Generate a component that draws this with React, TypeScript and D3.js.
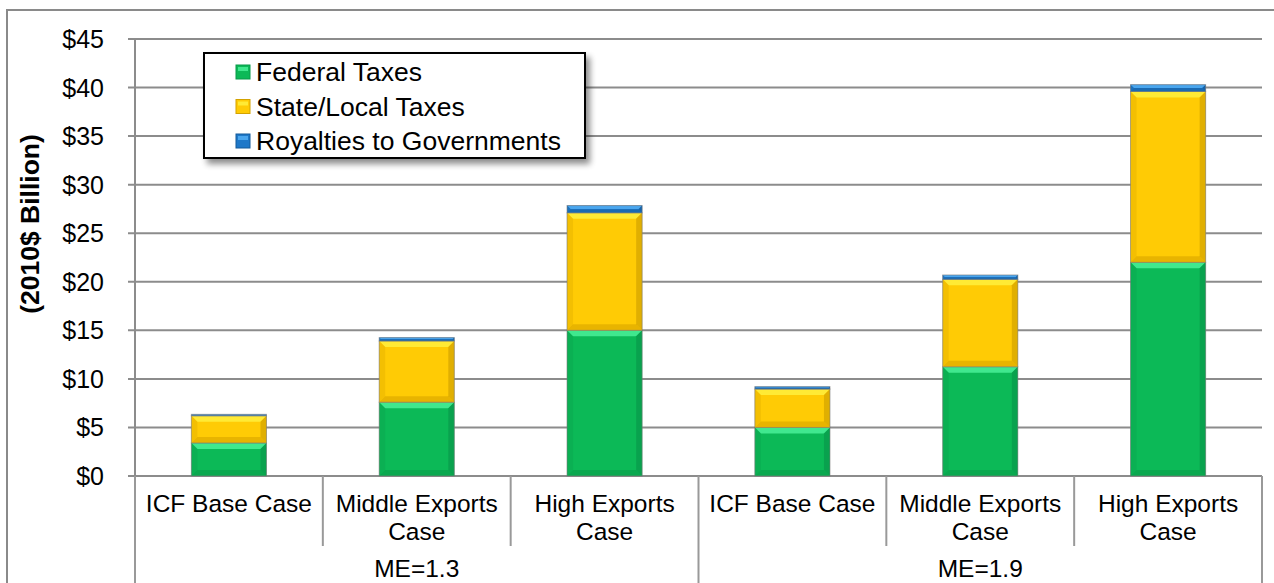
import React from "react";
import * as d3 from "d3";

const categories = [
  "ICF Base Case|1.3",
  "Middle Exports Case|1.3",
  "High Exports Case|1.3",
  "ICF Base Case|1.9",
  "Middle Exports Case|1.9",
  "High Exports Case|1.9",
];
const categoryLabels: string[][] = [
  ["ICF Base Case"],
  ["Middle Exports", "Case"],
  ["High Exports", "Case"],
  ["ICF Base Case"],
  ["Middle Exports", "Case"],
  ["High Exports", "Case"],
];
const groups = ["ME=1.3", "ME=1.9"];
const seriesNames = ["Federal Taxes", "State/Local Taxes", "Royalties to Governments"];
const federal = [3.4, 7.6, 15.0, 5.0, 11.25, 22.0];
const stateLocal = [2.8, 6.3, 12.1, 3.95, 9.0, 17.6];
const royalties = [0.15, 0.35, 0.75, 0.25, 0.45, 0.7];
const yTicks = [0, 5, 10, 15, 20, 25, 30, 35, 40, 45];

const palette = [
  { base: "#0cb957", light: "#40e88e", dark: "#08994a", side: "#0aa84f" },
  { base: "#ffcb05", light: "#ffea35", dark: "#d3a200", side: "#e8b400" },
  { base: "#1f78c8", light: "#4aa6ee", dark: "#145a9a", side: "#1a6ab2" },
];

const FONT = "'Liberation Sans', Arial, sans-serif";

export default function App() {
  const W = 1274;
  const H = 583;
  const left = 135;
  const right = 1262;
  const top = 39;
  const bottom = 476;

  const x = d3.scaleBand<string>().domain(categories).range([left, right]).paddingInner(0.6).paddingOuter(0.3);
  const y = d3.scaleLinear().domain([0, 45]).range([bottom, top]);
  const step = x.step();

  const data = categories.map((c, i) => ({ key: c, f: federal[i], s: stateLocal[i], r: royalties[i] }));
  const stack = d3.stack<any>().keys(["f", "s", "r"])(data);

  const segs: JSX.Element[] = [];
  stack.forEach((layer, si) => {
    const col = palette[si];
    layer.forEach((d, i) => {
      const x0 = x(categories[i])!;
      const w = x.bandwidth();
      const y0 = y(d[1]);
      const y1 = y(d[0]);
      const h = y1 - y0;
      const b = Math.min(6, h / 2);
      const x1 = x0 + w;
      segs.push(
        <g key={`${si}-${i}`}>
          <rect x={x0} y={y0} width={w} height={h} fill={col.base} />
          {b > 1 && (
            <>
              <polygon points={`${x0},${y0} ${x1},${y0} ${x1 - b},${y0 + b} ${x0 + b},${y0 + b}`} fill={col.light} />
              <polygon points={`${x0},${y1} ${x1},${y1} ${x1 - b},${y1 - b} ${x0 + b},${y1 - b}`} fill={col.side} />
              <polygon points={`${x1},${y0} ${x1},${y1} ${x1 - b},${y1 - b} ${x1 - b},${y0 + b}`} fill={col.dark} opacity={0.7} />
              <polygon points={`${x0},${y0} ${x0},${y1} ${x0 + b},${y1 - b} ${x0 + b},${y0 + b}`} fill={col.side} opacity={0.5} />
            </>
          )}
          <rect x={x0} y={y0} width={w} height={h} fill="none" stroke="#7a7a7a" strokeOpacity={0.6} strokeWidth={1} />
        </g>
      );
    });
  });

  const boundaries = d3.range(categories.length + 1).map((i) => left + i * step);

  return (
    <svg width={W} height={H} style={{ position: "absolute", left: 0, top: 0, background: "#fff" }} fontFamily={FONT}>
      <defs>
        <filter id="shadow" x="-10%" y="-10%" width="130%" height="140%">
          <feGaussianBlur in="SourceAlpha" stdDeviation="3" />
          <feOffset dx="4" dy="5" result="ob" />
          <feComponentTransfer><feFuncA type="linear" slope="0.45" /></feComponentTransfer>
          <feMerge><feMergeNode /><feMergeNode in="SourceGraphic" /></feMerge>
        </filter>
      </defs>
      <rect x={0} y={0} width={W} height={H} fill="#fff" />
      <rect x={7} y={10} width={1290} height={620} fill="none" stroke="#8a8a8a" strokeWidth={2} />

      {yTicks.map((t) => (
        <g key={t}>
          <line x1={128} x2={right} y1={y(t)} y2={y(t)} stroke="#8c8c8c" strokeWidth={2} />
          <text x={104} y={y(t)} textAnchor="end" dominantBaseline="central" fontSize={25} fill="#000">
            {"$" + t}
          </text>
        </g>
      ))}
      <line x1={left} x2={left} y1={top} y2={bottom} stroke="#8c8c8c" strokeWidth={2} />

      <text transform={`translate(30,224) rotate(-90)`} textAnchor="middle" dominantBaseline="central" fontSize={26.5} fontWeight="bold">
        (2010$ Billion)
      </text>

      {segs}

      {boundaries.map((bx, i) => {
        const isGroup = i % 3 === 0;
        return <line key={i} x1={bx} x2={bx} y1={bottom} y2={isGroup ? H : 546} stroke="#999" strokeWidth={2} />;
      })}

      {categories.map((c, i) => {
        const cx = left + step * (i + 0.5);
        return categoryLabels[i].map((ln, j) => (
          <text key={c + j} x={cx} y={503 + j * 28} textAnchor="middle" dominantBaseline="central" fontSize={24.5}>
            {ln}
          </text>
        ));
      })}
      {groups.map((g, gi) => (
        <text key={g} x={left + step * (gi * 3 + 1.5)} y={568} textAnchor="middle" dominantBaseline="central" fontSize={24.5}>
          {g}
        </text>
      ))}

      <g>
        <rect x={204} y={53} width={381} height={105} fill="#fff" stroke="#000" strokeWidth={2} filter="url(#shadow)" />
        {seriesNames.map((n, i) => {
          const cy = 72 + i * 34.5;
          const col = palette[i];
          return (
            <g key={n}>
              <rect x={236} y={cy - 7} width={14} height={14} fill={col.base} stroke={col.dark} strokeWidth={1} />
              <rect x={238} y={cy - 5} width={10} height={4} fill={col.light} />
              <text x={256} y={cy} dominantBaseline="central" fontSize={26.5}>
                {n}
              </text>
            </g>
          );
        })}
      </g>
    </svg>
  );
}
